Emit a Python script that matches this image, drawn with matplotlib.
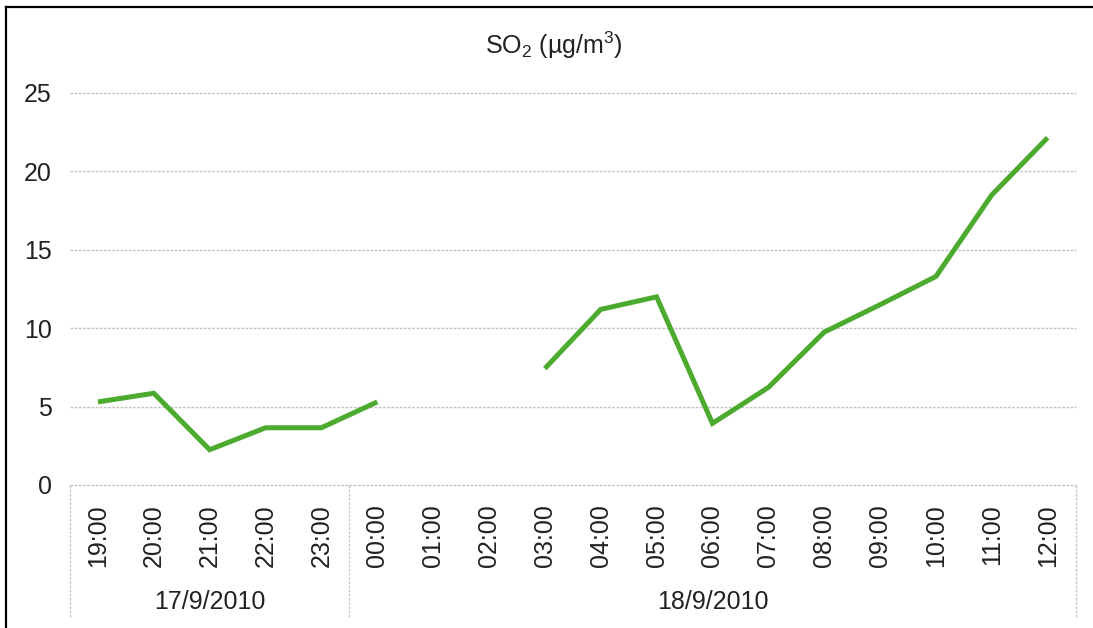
import numpy as np
import matplotlib
matplotlib.use("Agg")
import matplotlib.pyplot as plt
from matplotlib.lines import Line2D

plt.rcParams['font.family'] = ['Liberation Sans', 'DejaVu Sans']
plt.rcParams['mathtext.fontset'] = 'custom'
plt.rcParams['mathtext.rm'] = 'Liberation Sans'

# data
hours = ['19:00', '20:00', '21:00', '22:00', '23:00',
         '00:00', '01:00', '02:00', '03:00', '04:00', '05:00', '06:00',
         '07:00', '08:00', '09:00', '10:00', '11:00', '12:00']
dates = ['17/9/2010', '18/9/2010']
date_counts = [5, 13]
so2 = [5.3, 5.85, 2.25, 3.65, 3.65,
       5.3, np.nan, np.nan, 7.43, 11.2, 12.0, 3.93,
       6.22, 9.75, 11.5, 13.3, 18.5, 22.15]
yticks = [0, 5, 10, 15, 20, 25]

W, H = 1093, 628
fig = plt.figure(figsize=(W / 100, H / 100), dpi=100)
left, right, bottom, top = 70, 1075.6, 485, 93
ax = fig.add_axes([left / W, (H - bottom) / H, (right - left) / W, (bottom - top) / H])

x = np.arange(len(hours))
ax.plot(x, so2, color='#4caa2e', lw=3.6, solid_joinstyle='miter', solid_capstyle='butt')

ax.set_xlim(-0.5, len(hours) - 0.5)
ax.set_ylim(0, 25)
ax.set_yticks(yticks)
ax.set_yticklabels([str(v) for v in yticks], fontsize=18, color='#222222')
ax.tick_params(axis='y', length=0, pad=13)
ax.set_xticks([])
for s in ax.spines.values():
    s.set_visible(False)

grid_style = dict(color='#c4c4c4', lw=1.0, ls=(0, (2, 1)))
for v in yticks:
    ax.axhline(v, **grid_style, zorder=0, clip_on=False)

# hour labels
for i, h in enumerate(hours):
    ax.annotate(h, xy=(i, 0), xycoords=('data', 'axes fraction'),
                xytext=(0, -14), textcoords='offset points',
                rotation=90, ha='center', va='top', fontsize=18, color='#222222')

# date groups with separators
start = 0
bounds = [-0.5]
for d, n in zip(dates, date_counts):
    center = start + (n - 1) / 2
    ax.annotate(d, xy=(center, 0), xycoords=('data', 'axes fraction'),
                xytext=(0, -84), textcoords='offset points',
                ha='center', va='center', fontsize=18, color='#222222')
    start += n
    bounds.append(start - 0.5)
for b in bounds:
    ax.plot([b, b], [0, -133 / (bottom - top)], transform=ax.get_xaxis_transform(),
            clip_on=False, **grid_style)

fig.text(554 / W, 1 - 45 / H, 'SO$_2$ (\u00b5g/m$^3$)', ha='center', va='center',
         fontsize=18, color='#222222')

# chart border (left and top visible)
fig.add_artist(Line2D([6 / W, 6 / W], [0, 1 - 7 / H], color='black', lw=1.6))
fig.add_artist(Line2D([6 / W, 1], [1 - 7 / H, 1 - 7 / H], color='black', lw=1.6))

fig.savefig('out.png', dpi=100)
